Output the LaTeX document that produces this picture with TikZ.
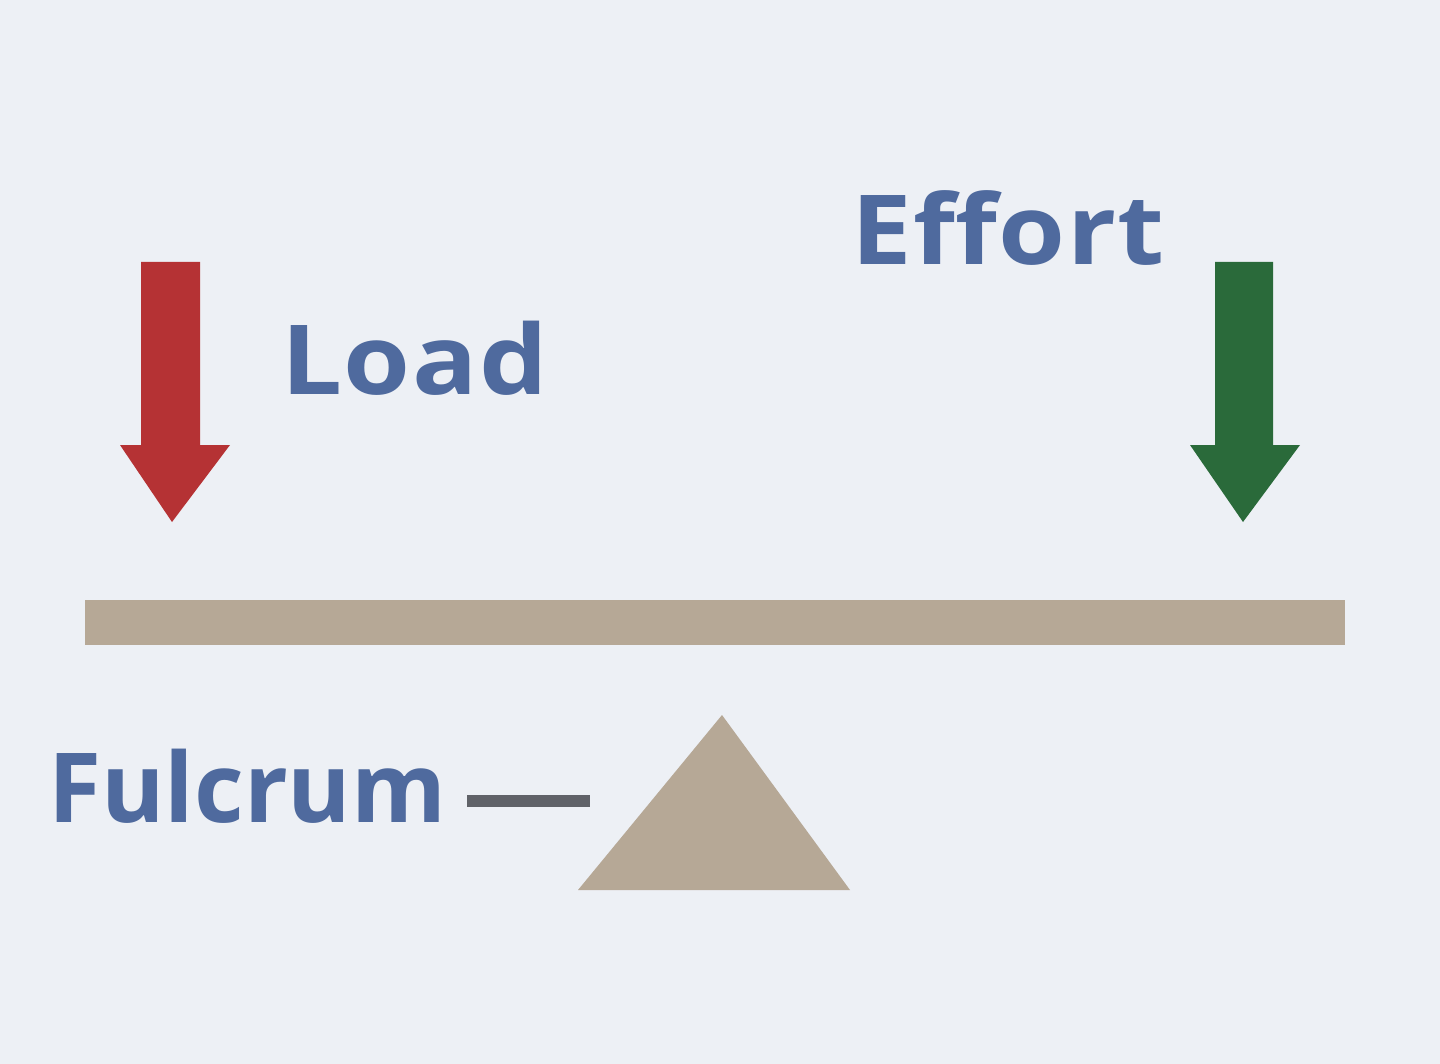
\documentclass[tikz,border=0pt]{standalone}
\usepackage{fontspec}
\setmainfont{Open Sans}
\newfontfamily\widesans[FakeStretch=1.12, LetterSpace=1.5]{Open Sans}
\definecolor{bg}{HTML}{EDF0F5}
\definecolor{beam}{HTML}{B6A896}
\definecolor{loadred}{HTML}{B53234}
\definecolor{effgreen}{HTML}{2A6A3A}
\definecolor{txtblue}{HTML}{4F6A9E}
\definecolor{linegray}{HTML}{606268}
\tikzset{
  lbl/.style={text=txtblue, font=\fontsize{55}{60}\selectfont\bfseries, inner sep=0pt, anchor=base west},
  widelbl/.style={lbl, font=\widesans\fontsize{55}{60}\selectfont\bfseries},
}
\begin{document}
\begin{tikzpicture}[x=0.02cm, y=-0.02cm]
\fill[bg] (0,0) rectangle (1440,1064);
\useasboundingbox (0,0) rectangle (1440,1064);
% beam
\fill[beam] (85,600) rectangle (1345,645);
% fulcrum triangle
\fill[beam] (722,715) -- (850,890) -- (578,890) -- cycle;
% load arrow
\fill[loadred] (141,262) -- (200,262) -- (200,445) -- (230,445) -- (172,522) -- (120,445) -- (141,445) -- cycle;
% effort arrow
\fill[effgreen] (1215,262) -- (1273,262) -- (1273,445) -- (1300,445) -- (1243,522) -- (1190,445) -- (1215,445) -- cycle;
% labels
\node[widelbl] (load) at (281,394) {Load};
\node[widelbl] (effort) at (851,265) {Effort};
\node[lbl] (fulcrum) at (48,822) {Fulcrum};
\coordinate (fstart) at (467,801);
\coordinate (fend) at (590,801);
\draw[linegray, line width=0.24cm] (fstart) -- (fend);
\end{tikzpicture}
\end{document}
